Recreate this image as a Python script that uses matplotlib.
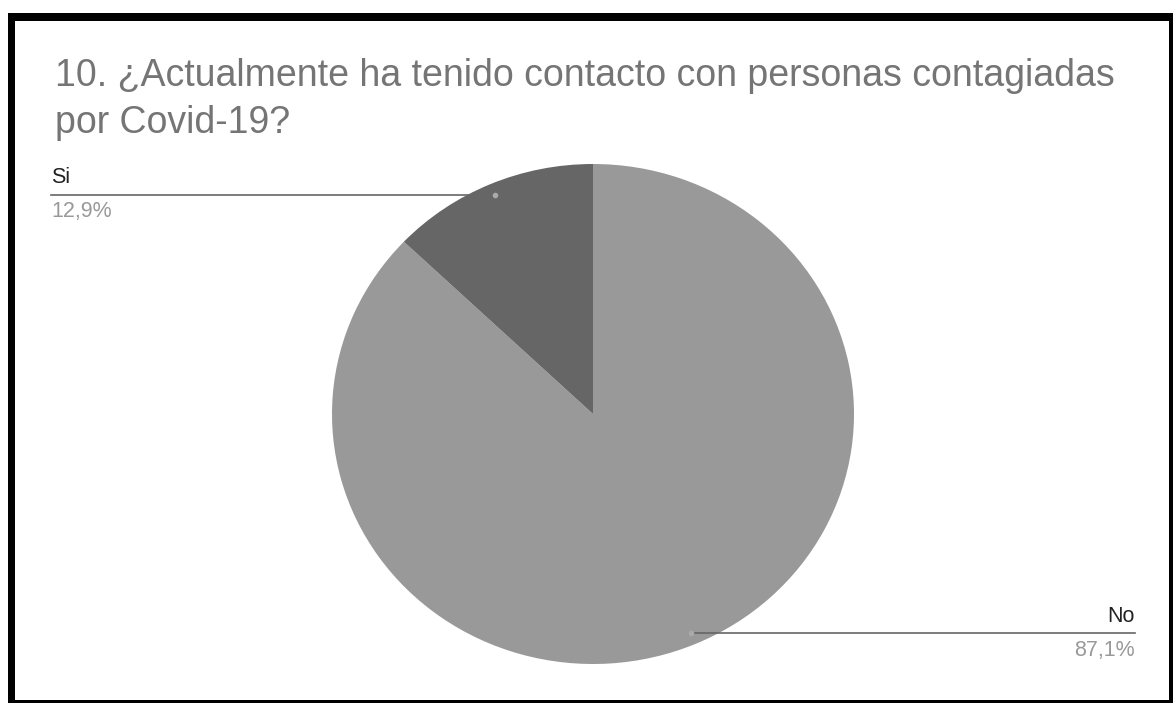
import matplotlib.pyplot as plt
import numpy as np
from matplotlib.patches import Rectangle

plt.rcParams['font.family'] = ['Liberation Sans', 'DejaVu Sans']

# data
labels = ["No", "Si"]
values = [87.1, 12.9]
pct_labels = ["87,1%", "12,9%"]
colors = ["#999999", "#666666"]
title = "10. ¿Actualmente ha tenido contacto con personas contagiadas\npor Covid-19?"

W, H = 1174, 703
fig = plt.figure(figsize=(W / 100, H / 100), dpi=100)

# pie axes: slightly wider than tall like the reference
cx, cy, rx, ry = 593, 414, 261, 250
ax = fig.add_axes([(cx - rx) / W, (H - cy - ry) / H, 2 * rx / W, 2 * ry / H])
wedges, _ = ax.pie(values, colors=colors, startangle=90, counterclock=False,
                   radius=1, wedgeprops=dict(linewidth=0))
ax.set_aspect('auto')
ax.set_xlim(-1, 1)
ax.set_ylim(-1, 1)
ax.axis('off')

# leader lines + labels
line_end = 2.075
for w, lab, pct in zip(wedges, labels, pct_labels):
    mid = np.deg2rad((w.theta1 + w.theta2) / 2)
    px, py = 0.955 * np.cos(mid), 0.955 * np.sin(mid)
    side = 1 if px > 0 else -1
    xend = side * line_end
    ax.plot([px, xend], [py, py], color="#666666", lw=1.2, clip_on=False)
    ax.plot([px], [py], 'o', color="#aaaaaa", ms=3, clip_on=False)
    ha = 'right' if side > 0 else 'left'
    ax.text(xend, py + 0.025, lab, ha=ha, va='bottom', fontsize=15.5,
            color="#222222")
    ax.text(xend, py - 0.025, pct, ha=ha, va='top', fontsize=15.5,
            color="#999999")

fig.text(55 / W, 1 - 58 / H, title, ha='left', va='top', fontsize=27,
         color="#757575", linespacing=1.4)

# screenshot frame
frame = [(8, 13, 1165, 8), (8, 13, 7, 690), (1169, 13, 4, 690), (8, 700, 1165, 3)]
for x, y, w, h in frame:
    fig.add_artist(Rectangle((x / W, 1 - (y + h) / H), w / W, h / H,
                             transform=fig.transFigure, color='black', lw=0))

fig.savefig("out.png", dpi=100)
